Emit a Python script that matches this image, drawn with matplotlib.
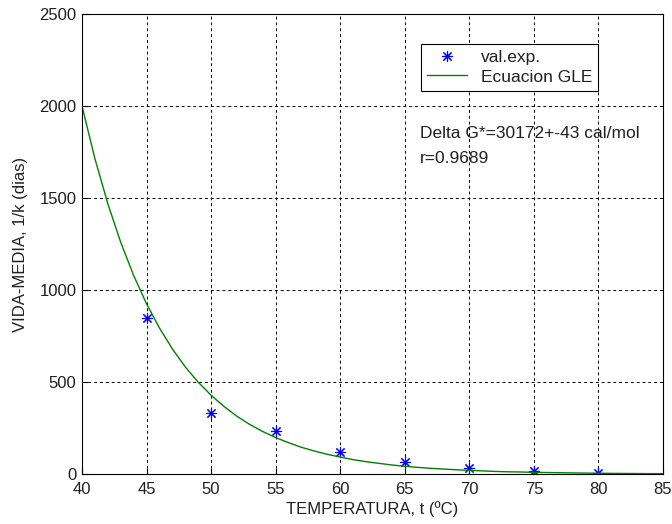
import matplotlib
matplotlib.use("Agg")
import matplotlib.pyplot as plt

plt.rcParams['font.family'] = ['Liberation Sans', 'DejaVu Sans']
plt.rcParams['font.size'] = 12

# experimental points
temp_exp = [45, 50, 55, 60, 65, 70, 75, 80]
vida_exp = [849, 330, 234, 121, 64, 34, 16, 5]

# fitted curve (GLE equation) at each degree
temp_fit = list(range(40, 86))
vida_fit = [2000, 1714, 1469, 1259, 1079, 925, 793, 680, 582, 499,
            428, 367, 314, 269, 231, 198, 170, 145, 125, 107,
            92, 78, 67, 58, 49, 42, 36, 31, 27, 23,
            20, 17, 14, 12, 11, 9, 8, 7, 6, 5,
            4, 3.5, 3, 2.5, 2, 2]

xticks = [40, 45, 50, 55, 60, 65, 70, 75, 80, 85]
yticks = [0, 500, 1000, 1500, 2000, 2500]

txt_color = '#202020'

fig = plt.figure(figsize=(6.72, 5.24), dpi=100)
ax = fig.add_axes([0.122, 0.0954, 0.8646, 0.878])

ax.plot(temp_exp, vida_exp, linestyle='none', marker=(8, 2, 0), markersize=8,
        color='blue', markeredgewidth=0.8, label='val.exp.')
ax.plot(temp_fit, vida_fit, color=(0, 0.5, 0), linewidth=1.0, label='Ecuacion GLE')

ax.set_xlim(40, 85)
ax.set_ylim(0, 2500)
ax.set_xticks(xticks)
ax.set_yticks(yticks)
ax.tick_params(direction='in', length=4, color='black', labelcolor=txt_color,
               labelsize=12)
ax.tick_params(axis='x', pad=6)
ax.tick_params(axis='y', pad=4)
ax.grid(True, color='black', linestyle=(0, (3, 3)), linewidth=0.7)
for s in ax.spines.values():
    s.set_color('black')
    s.set_linewidth(0.8)

ax.set_xlabel('TEMPERATURA, t (ºC)', labelpad=3, color=txt_color)
ax.set_ylabel('VIDA-MEDIA, 1/k (dias)', labelpad=8, color=txt_color)

ax.text(66.2, 1848, 'Delta G*=30172+-43 cal/mol', va='center', ha='left',
        fontsize=12.5, color=txt_color)
ax.text(66.2, 1717, 'r=0.9689', va='center', ha='left', fontsize=12.5,
        color=txt_color)

leg = ax.legend(loc='upper left', bbox_to_anchor=(0.583, 0.935), fancybox=False,
                edgecolor='black', framealpha=1, borderaxespad=0,
                handlelength=2.3, borderpad=0.35, labelspacing=0.25,
                fontsize=12.5)
for t in leg.get_texts():
    t.set_color(txt_color)
leg.get_frame().set_linewidth(0.8)

fig.savefig('out.png', dpi=100, facecolor='white')
